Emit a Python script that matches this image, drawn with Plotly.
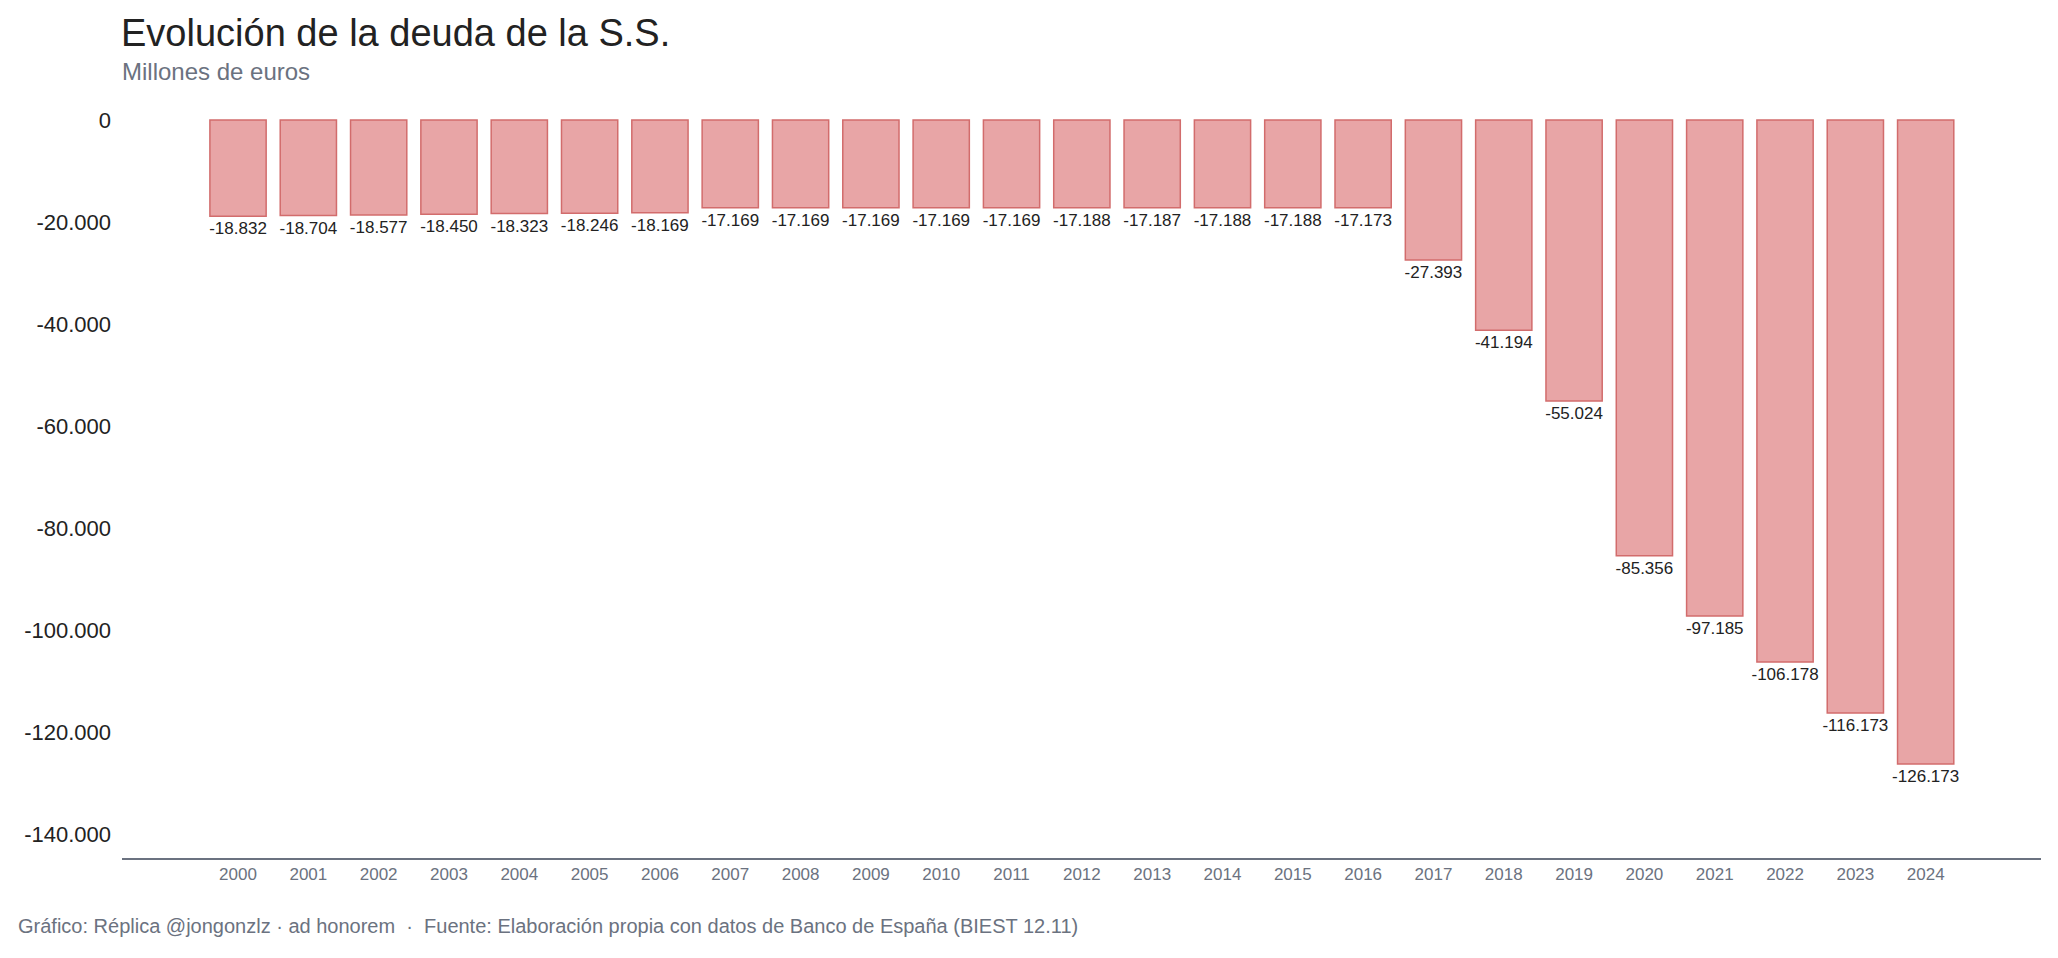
import plotly.graph_objects as go

years = [str(y) for y in range(2000, 2025)]
deuda = [-18832, -18704, -18577, -18450, -18323, -18246, -18169,
         -17169, -17169, -17169, -17169, -17169, -17188, -17187,
         -17188, -17188, -17173, -27393, -41194, -55024, -85356,
         -97185, -106178, -116173, -126173]
ytick_vals = [0, -20000, -40000, -60000, -80000, -100000, -120000, -140000]


def fmt(v):
    s = f"{abs(v):,}".replace(",", ".")
    return ("-" if v < 0 else "") + s


FONT = "Liberation Sans, Arial, Helvetica, sans-serif"
W, H = 2058, 958
L, R, T, B = 122, 17, 115, 100
PW, PH = W - L - R, H - T - B


def px_x(x):
    return (x - L) / PW


def px_y(y):
    return (H - B - y) / PH


fig = go.Figure()
fig.add_trace(go.Bar(
    x=years, y=deuda,
    marker=dict(color="rgb(232,165,166)", line=dict(color="rgb(210,108,108)", width=1.5)),
    text=[fmt(v) for v in deuda],
    textposition="outside",
    textfont=dict(size=17, color="#222222", family=FONT),
    cliponaxis=False,
    constraintext="none",
    hoverinfo="x+y",
))

fig.update_layout(
    width=W, height=H,
    margin=dict(l=L, r=R, t=T, b=B),
    paper_bgcolor="white", plot_bgcolor="white",
    font=dict(family=FONT, color="#222222"),
    bargap=0.2,
    showlegend=False,
    title=dict(
        text="Evolución de la deuda de la S.S.",
        font=dict(size=38, color="#222222", family=FONT),
        xref="container", yref="container",
        x=121 / W, xanchor="left",
        y=1 - 19 / H, yanchor="top",
    ),
    annotations=[
        dict(text="Millones de euros", xref="paper", yref="paper",
             x=px_x(120), xanchor="left", y=px_y(56), yanchor="top",
             showarrow=False, font=dict(size=24, color="#6b7280", family=FONT)),
        dict(text="Gráfico: Réplica @jongonzlz · ad honorem  ·  Fuente: Elaboración propia con datos de Banco de España (BIEST 12.11)",
             xref="paper", yref="paper",
             x=px_x(16), xanchor="left", y=px_y(913), yanchor="top",
             showarrow=False, font=dict(size=20, color="#6b7280", family=FONT)),
    ],
)

fig.update_xaxes(
    type="category",
    range=[-1.65, 25.64],
    showline=True, linecolor="#6b7280", linewidth=2,
    showgrid=False, zeroline=False, ticks="",
    tickfont=dict(size=17, color="#6b7280", family=FONT),
)
fig.update_yaxes(
    range=[-144600, 1000],
    showline=False, showgrid=False, zeroline=False,
    tickvals=ytick_vals, ticktext=[fmt(v) for v in ytick_vals],
    ticks="", ticklabelstandoff=10,
    tickfont=dict(size=22, color="#222222", family=FONT),
)

fig.write_html("out.html")
